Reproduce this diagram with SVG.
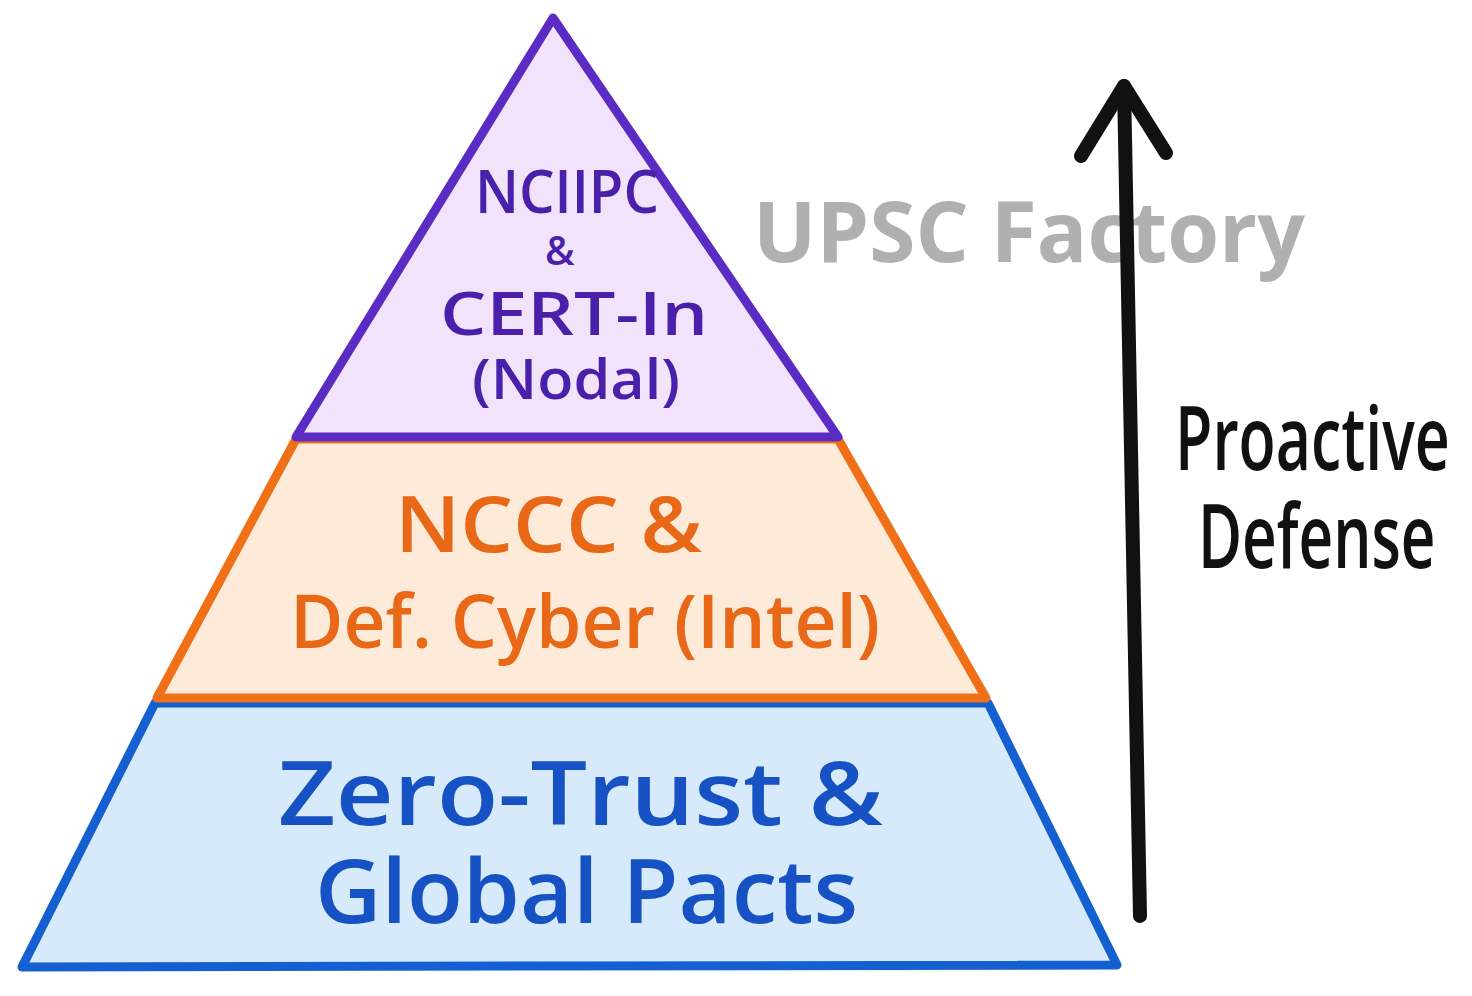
<svg xmlns="http://www.w3.org/2000/svg" width="1472" height="996" viewBox="0 0 1472 996">
<style>
.tier{stroke-width:9;stroke-linejoin:round;stroke-linecap:round}
.t{font-family:"Open Sans","Noto Sans","DejaVu Sans",sans-serif;font-weight:600}
.wm{font-family:"Open Sans","Noto Sans",sans-serif;font-weight:700;fill:#b0b0b0}
.conn{stroke:#111;stroke-width:14;stroke-linecap:round;stroke-linejoin:round;fill:none}
</style>
<rect width="1472" height="996" fill="#ffffff"/>
<g id="watermark"><text class="wm" x="753" y="262" font-size="84" textLength="552" lengthAdjust="spacingAndGlyphs">UPSC Factory</text></g>
<g id="tier-bottom">
<polygon class="tier" points="155,703 988,703 1117,965 22,967" fill="#d6eafb" stroke="#1560d0"/>
<text class="t" x="278" y="825" font-size="88" fill="#1652c4" textLength="605" lengthAdjust="spacingAndGlyphs">Zero-Trust &amp;</text>
<text class="t" x="315" y="923" font-size="88" fill="#1652c4" textLength="543" lengthAdjust="spacingAndGlyphs">Global Pacts</text>
</g>
<g id="tier-middle">
<polygon class="tier" points="296,439 838,439 986,698 157,698" fill="#fdead8" stroke="#f07018"/>
<text class="t" x="395" y="552" font-size="78" fill="#e86818" textLength="307" lengthAdjust="spacingAndGlyphs">NCCC &amp;</text>
<text class="t" x="290" y="648" font-size="74" fill="#e86818" textLength="590" lengthAdjust="spacingAndGlyphs">Def. Cyber (Intel)</text>
</g>
<g id="tier-top">
<polygon class="tier" points="553,18 838,437 296,437" fill="#f0e3fb" stroke="#5b2cc4"/>
<text class="t" x="475" y="213" font-size="60" fill="#4a1faa" textLength="184" lengthAdjust="spacingAndGlyphs">NCIIPC</text>
<text class="t" x="545" y="265" font-size="40" fill="#4a1faa">&amp;</text>
<text class="t" x="440" y="335" font-size="60" fill="#4a1faa" textLength="268" lengthAdjust="spacingAndGlyphs">CERT-In</text>
<text class="t" x="472" y="399" font-size="56" fill="#4a1faa" textLength="208" lengthAdjust="spacingAndGlyphs">(Nodal)</text>
</g>
<g id="connectors">
<path class="conn" d="M1140,916 L1124,86"/>
<path class="conn" d="M1081,156 L1124,86 L1166,153"/>
</g>
<g id="label-proactive">
<text class="t" transform="translate(1175,470) scale(0.68,1)" font-size="88" fill="#111" textLength="404" lengthAdjust="spacingAndGlyphs">Proactive</text>
<text class="t" transform="translate(1198,568) scale(0.68,1)" font-size="88" fill="#111" textLength="349" lengthAdjust="spacingAndGlyphs">Defense</text>
</g>
</svg>
